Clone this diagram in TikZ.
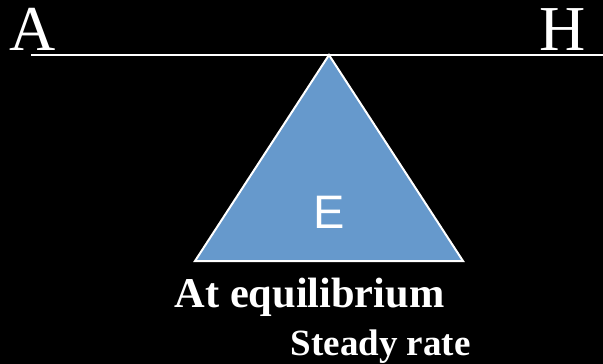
\documentclass[tikz,border=0pt]{standalone}
\usepackage{fontspec}
\setmainfont{Liberation Serif}
\newfontfamily\sansE{Liberation Sans}
\definecolor{triblue}{RGB}{102,153,204}
\begin{document}
\begin{tikzpicture}[x=1pt,y=-1pt,
  lbl/.style={text=white,inner sep=0pt,anchor=base west},
  wline/.style={draw=white,line width=2pt}]
\fill[black] (0,0) rectangle (603,364);
\useasboundingbox (0,0) rectangle (603,364);
\coordinate (l) at (31,55);
\coordinate (r) at (603,55);
\coordinate (apex) at (329,55);
\coordinate (bl) at (195,261);
\coordinate (br) at (463,261);
\draw[wline] (l) -- (r);
\filldraw[fill=triblue,draw=white,line width=2pt,line join=miter] (apex) -- (bl) -- (br) -- cycle;
\node[lbl] (A) at (9,50) {\fontsize{64}{64}\selectfont A};
\node[lbl] (H) at (539,50) {\fontsize{64}{64}\selectfont H};
\node[text=white,inner sep=0pt,anchor=base] (E) at (329.5,228) {\sansE\fontsize{47}{47}\selectfont E};
\node[lbl] (eq) at (174.5,307.5) {\fontsize{42.4}{42.4}\selectfont\bfseries At equilibrium};
\node[lbl] (sr) at (290.5,355.5) {\fontsize{37}{37}\selectfont\bfseries Steady rate};
\end{tikzpicture}
\end{document}
